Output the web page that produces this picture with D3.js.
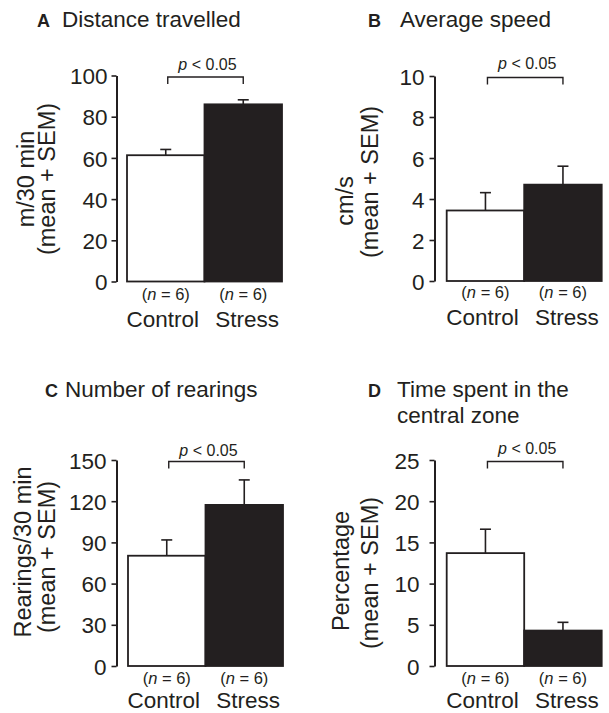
<!DOCTYPE html>
<html>
<head>
<meta charset="utf-8">
<script src="https://cdn.jsdelivr.net/npm/d3@7"></script>
<style>
  body { margin: 0; background: #fff; }
  svg { display: block; font-family: "Liberation Sans", Arial, Helvetica, sans-serif; }
</style>
</head>
<body>
<svg id="chart" width="609" height="713"></svg>
<script>
// data
const groups = ['Control', 'Stress']
const groupN = [6, 6]
const pLabel = '< 0.05'

const distanceMean = [61.3, 86.0]
const distanceSem = [2.8, 2.2]
const distanceTicks = [0, 20, 40, 60, 80, 100]

const speedMean = [3.44, 4.7]
const speedSem = [0.87, 0.9]
const speedTicks = [0, 2, 4, 6, 8, 10]

const rearingMean = [80.3, 117.3]
const rearingSem = [11.5, 18.2]
const rearingTicks = [0, 30, 60, 90, 120, 150]

const centralMean = [13.7, 4.3]
const centralSem = [2.9, 1.0]
const centralTicks = [0, 5, 10, 15, 20, 25]

const INK = '#231f20'

// one entry per panel: data + where it sits on the page
const panels = [
  {
    letter: 'A', title: ['Distance travelled'], yTitle: ['m/30 min', '(mean + SEM)'],
    mean: distanceMean, sem: distanceSem, ticks: distanceTicks,
    axisX: 116.5, top: 75.5, bottom: 281.5, barX: 127, tickPad: 4,
    letterX: 37, titleX: 62, titleY: 27,
    yTitlePos: [[34, 179], [55, 179]], nY: 300, groupY: 327, pGap: 7
  },
  {
    letter: 'B', title: ['Average speed'], yTitle: ['cm/s', '(mean + SEM)'],
    mean: speedMean, sem: speedSem, ticks: speedTicks,
    axisX: 434.5, top: 76, bottom: 281, barX: 446.7, tickPad: 5,
    letterX: 368, titleX: 400, titleY: 27,
    yTitlePos: [[353, 201], [378, 182]], nY: 298, groupY: 325, pGap: 9
  },
  {
    letter: 'C', title: ['Number of rearings'], yTitle: ['Rearings/30 min', '(mean + SEM)'],
    mean: rearingMean, sem: rearingSem, ticks: rearingTicks,
    axisX: 116.5, top: 460, bottom: 666, barX: 128, tickPad: 5,
    letterX: 45, titleX: 65, titleY: 397,
    yTitlePos: [[31, 552], [55, 557]], nY: 684, groupY: 708, pGap: 6
  },
  {
    letter: 'D', title: ['Time spent in the', 'central zone'], yTitle: ['Percentage', '(mean + SEM)'],
    mean: centralMean, sem: centralSem, ticks: centralTicks,
    axisX: 434.5, top: 460, bottom: 666, barX: 446.7, tickPad: 10,
    letterX: 368, titleX: 397, titleY: 397,
    yTitlePos: [[349, 571], [378, 573]], nY: 684, groupY: 708, pGap: 8
  }
]

const BAR_W = 77.5
const CAP = 11

let svg = d3.select('#chart')

panels.forEach(p => {
  let g = svg.append('g')
  let ymax = p.ticks[p.ticks.length - 1]
  let y = d3.scaleLinear().domain([0, ymax]).range([p.bottom, p.top])
  let x = d3.scaleBand().domain(groups).range([p.barX, p.barX + 2 * BAR_W]).padding(0)

  // panel title
  let t = g.append('text')
    .attr('y', p.titleY)
    .attr('fill', INK)
  t.append('tspan')
    .attr('x', p.letterX)
    .style('font-weight', 'bold')
    .style('font-size', '18px')
    .text(p.letter)
  p.title.forEach((line, i) => {
    t.append('tspan')
      .attr('x', p.titleX)
      .attr('dy', i === 0 ? 0 : 26)
      .style('font-size', '22.5px')
      .text(line)
  })

  // y axis
  let ag = g.append('g')
    .attr('transform', `translate(${p.axisX},0)`)
    .call(d3.axisLeft(y).tickValues(p.ticks).tickSize(5).tickSizeOuter(0).tickPadding(p.tickPad))
  ag.select('.domain').attr('stroke', INK).attr('stroke-width', 2)
  ag.selectAll('.tick line').attr('stroke', INK).attr('stroke-width', 1.6)
  ag.selectAll('.tick text')
    .attr('fill', INK)
    .style('font-size', '22.5px')
    .style('font-family', 'inherit')
    .attr('dy', '0.36em')

  // y title, two rotated lines
  p.yTitle.forEach((line, i) => {
    let [tx, ty] = p.yTitlePos[i]
    g.append('text')
      .attr('transform', `translate(${tx},${ty}) rotate(-90)`)
      .attr('text-anchor', 'middle')
      .attr('fill', INK)
      .style('font-size', '23.5px')
      .text(line)
  })

  // bars
  g.selectAll('rect.bar')
    .data(groups)
    .join('rect')
    .attr('class', 'bar')
    .attr('x', d => x(d))
    .attr('width', x.bandwidth())
    .attr('y', (d, i) => y(p.mean[i]))
    .attr('height', (d, i) => y(0) - y(p.mean[i]))
    .attr('fill', (d, i) => i === 0 ? '#fff' : INK)
    .attr('stroke', INK)
    .attr('stroke-width', 1.8)

  // error bars (upper only)
  groups.forEach((d, i) => {
    let cx = x(d) + x.bandwidth() / 2
    let y1 = y(p.mean[i])
    let y2 = y(p.mean[i] + p.sem[i])
    g.append('line')
      .attr('x1', cx).attr('x2', cx)
      .attr('y1', y1).attr('y2', y2)
      .attr('stroke', INK).attr('stroke-width', 1.6)
    g.append('line')
      .attr('x1', cx - CAP / 2).attr('x2', cx + CAP / 2)
      .attr('y1', y2).attr('y2', y2)
      .attr('stroke', INK).attr('stroke-width', 1.6)
  })

  // significance bracket
  let bx1 = x(groups[0]) + x.bandwidth() / 2 + 2
  let bx2 = x(groups[1]) + x.bandwidth() / 2
  let by = p.top + 1.5
  g.append('path')
    .attr('d', `M${bx1},${by + 7}V${by}H${bx2}V${by + 7}`)
    .attr('fill', 'none')
    .attr('stroke', INK)
    .attr('stroke-width', 1.4)
  let pt = g.append('text')
    .attr('x', (bx1 + bx2) / 2 + 2)
    .attr('y', by - p.pGap)
    .attr('text-anchor', 'middle')
    .attr('fill', INK)
    .style('font-size', '16px')
  pt.append('tspan').style('font-style', 'italic').text('p')
  pt.append('tspan').text(' ' + pLabel)

  // group labels
  groups.forEach((d, i) => {
    let cx = x(d) + x.bandwidth() / 2
    let nt = g.append('text')
      .attr('x', cx)
      .attr('y', p.nY)
      .attr('text-anchor', 'middle')
      .attr('fill', INK)
      .style('font-size', '16.5px')
    nt.append('tspan').text('(')
    nt.append('tspan').style('font-style', 'italic').text('n')
    nt.append('tspan').text(` = ${groupN[i]})`)
    g.append('text')
      .attr('x', cx + (i === 0 ? -3 : 4))
      .attr('y', p.groupY)
      .attr('text-anchor', 'middle')
      .attr('fill', INK)
      .style('font-size', '22.5px')
      .text(d)
  })
})
</script>
</body>
</html>
